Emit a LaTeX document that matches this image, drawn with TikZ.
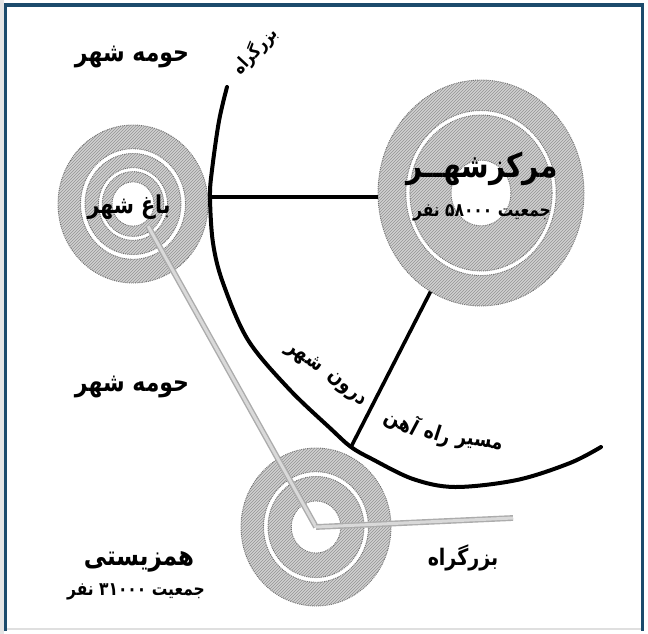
\documentclass[tikz,border=0pt]{standalone}
\usepackage{fontspec}
\newfontfamily\fa[Script=Arabic]{DejaVu Sans}
\TeXXeTstate=1
\usetikzlibrary{patterns,shapes.geometric}
\definecolor{frameblue}{HTML}{1C4B6C}

% right-to-left run of Persian text, set a little taller than the font's own shapes
\newcommand\rtl[1]{\scalebox{1}[1.2]{\beginR #1\endR}}

\tikzset{
  zone/.style={ellipse, inner sep=0pt},
  ringbase/.style={fill=gray!36, even odd rule},
  ringhatch/.style={pattern=north east lines, pattern color=gray!85, even odd rule},
  ringedge/.style={draw=black!55, line width=0.9pt, densely dotted},
  highway/.style={line width=4pt, line cap=round, line join=round},
  railway/.style={line width=3.6pt},
  paleroad/.style={draw=gray!65, line width=1.4pt, double=gray!30, double distance=3pt},
  lbl/.style={inner sep=0pt, font=\fa\bfseries\fontsize{22}{26}\selectfont},
  biglbl/.style={inner sep=0pt, font=\fa\bfseries\fontsize{28}{32}\selectfont},
  poplbl/.style={inner sep=0pt, font=\fa\bfseries\fontsize{15.5}{18}\selectfont},
  raillbl/.style={inner sep=0pt, font=\fa\bfseries\fontsize{17.5}{20}\selectfont},
}

% hatched concentric rings around a zone: #1 centre, #2 x radius, #3 y radius, #4 list outer/inner fractions
\newcommand\zonerings[4]{%
  \foreach \ra/\rb in {#4}{%
    \fill[ringbase] (#1) ellipse [x radius=\ra*#2, y radius=\ra*#3]
                    (#1) ellipse [x radius=\rb*#2, y radius=\rb*#3];
    \fill[ringhatch] (#1) ellipse [x radius=\ra*#2, y radius=\ra*#3]
                     (#1) ellipse [x radius=\rb*#2, y radius=\rb*#3];
    \draw[ringedge] (#1) ellipse [x radius=\ra*#2, y radius=\ra*#3];
    \draw[ringedge] (#1) ellipse [x radius=\rb*#2, y radius=\rb*#3];
  }}

\begin{document}
\begin{tikzpicture}[x=1pt, y=-1pt]
  \useasboundingbox (0,0) rectangle (648,634);
  \fill[white] (0,0) rectangle (648,634);
  \fill[black!10] (0,0) rectangle (4,634);

  % frame
  \draw[gray!25, line width=1.5pt] (5.5,629) -- (642.5,629);
  \draw[frameblue, line width=3.5pt] (5.5,631) -- (5.5,5.2) -- (642.5,5.2) -- (642.5,631);

  % the three settlements
  \node[zone, minimum width=150pt, minimum height=158pt] (garden) at (133,204) {};
  \node[zone, minimum width=206pt, minimum height=226pt] (centre) at (481,193) {};
  \node[zone, minimum width=150pt, minimum height=158pt] (commune) at (316,527) {};

  \zonerings{garden}{75pt}{79pt}{1/0.70, 0.64/0.46, 0.41/0.28}
  \zonerings{centre}{103pt}{113pt}{1/0.73, 0.69/0.29}
  \zonerings{commune}{75pt}{79pt}{1/0.70, 0.64/0.33}

  % points on the ring road
  \coordinate (hwjoin) at (210,197);
  \coordinate (cross) at (351,447);
  \coordinate (gstart) at (148,226);
  \coordinate (hwend) at (513,518);

  % pale highways
  \draw[paleroad] (gstart) -- (commune.center);
  \draw[paleroad] (commune.center) -- (hwend);

  % ring highway
  \draw[highway] plot[smooth, tension=0.55] coordinates {
    (227,87) (219,121) (212,170) (hwjoin) (213,243) (223,283) (248,340)
    (289,389) (331,429) (cross) (372,459) (413,479) (455,487) (517,480)
    (570,463) (601,447)};

  % inner-city railway
  \draw[railway] (hwjoin) -- (hwjoin -| centre.west);
  \draw[railway] (cross) -- (centre);

  % labels
  \node[lbl] (sub1) at (132,57) {\fa\rtl{حومه شهر}};
  \node[lbl] (sub2) at (132,387) {\fa\rtl{حومه شهر}};
  \node[lbl, font=\fa\bfseries\fontsize{20.5}{24}\selectfont] (gardenlbl) at (129,207) {\fa\rtl{باغ شهر}};
  \node[biglbl] (centrelbl) at (482,169) {\fa\rtl{مرکزشهــر}};
  \node[poplbl] (centrepop) at (482,213) {\fa\rtl{جمعیت \beginL ۵۸۰۰۰\endL{} نفر}};
  \node[lbl, font=\fa\bfseries\fontsize{23}{26}\selectfont] (communelbl) at (139,562) {\fa\rtl{همزیستی}};
  \node[poplbl] (communepop) at (136,592) {\fa\rtl{جمعیت \beginL ۳۱۰۰۰\endL{} نفر}};
  \node[lbl, font=\fa\bfseries\fontsize{19}{22}\selectfont] (hwlbl) at (463,558) {\fa\rtl{بزرگراه}};
  \node[raillbl, font=\fa\bfseries\fontsize{15}{18}\selectfont, rotate=47] (hwtop) at (255,51) {\fa\rtl{بزرگراه}};

  % railway caption, word by word along the bend
  \node[raillbl, rotate=-8] (w1) at (479,445) {\fa\rtl{مسیر}};
  \node[raillbl, rotate=-18] (w2) at (437,435) {\fa\rtl{راه}};
  \node[raillbl, rotate=-28] (w3) at (402,422) {\fa\rtl{آهن}};
  \node[raillbl, rotate=-42] (w4) at (346,390) {\fa\rtl{درون}};
  \node[raillbl, rotate=-35] (w5) at (304,358) {\fa\rtl{شهر}};
\end{tikzpicture}
\end{document}
